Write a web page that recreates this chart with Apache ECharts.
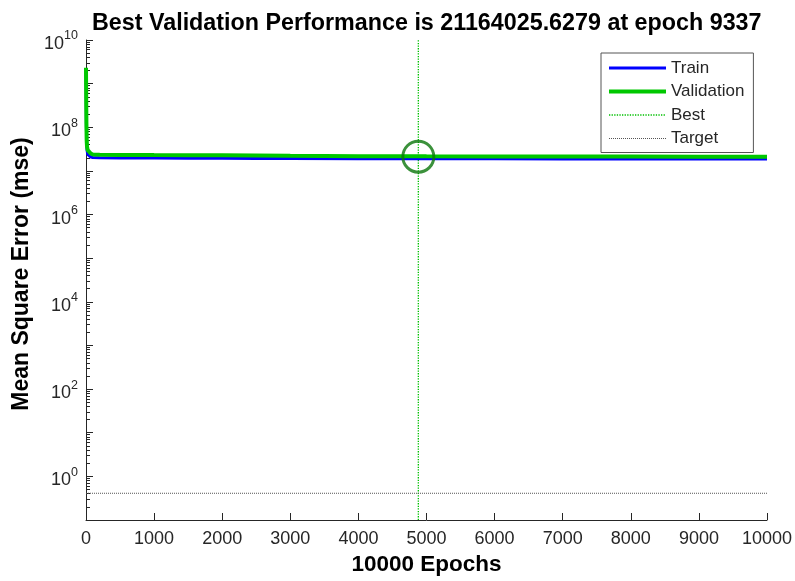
<!DOCTYPE html>
<html>
<head>
<meta charset="utf-8">
<script src="https://cdn.jsdelivr.net/npm/echarts@6/dist/echarts.min.js"></script>
<style>
html,body{margin:0;padding:0;background:#fff;}
#chart{width:795px;height:581px;}
</style>
</head>
<body>
<div id="chart"></div>
<script>
const epochs = [0, 2, 4, 6, 10, 15, 25, 40, 70, 100, 200, 500, 1000, 1500, 2000, 2500, 3000, 4000, 5000, 6000, 7000, 8000, 9000, 10000];
const trainMse = [2.0e9, 7e8, 2.5e8, 1.0e8, 4.2e7, 3.0e7, 2.4e7, 2.2e7, 2.08e7, 2.03e7, 2.0e7, 1.98e7, 1.97e7, 1.96e7, 1.95e7, 1.93e7, 1.92e7, 1.91e7, 1.9e7, 1.89e7, 1.88e7, 1.88e7, 1.87e7, 1.87e7];
const validMse = [2.3e9, 8e8, 3e8, 1.25e8, 5e7, 3.6e7, 3.0e7, 2.75e7, 2.5e7, 2.38e7, 2.34e7, 2.32e7, 2.3e7, 2.29e7, 2.28e7, 2.25e7, 2.22e7, 2.18e7, 2.16e7, 2.15e7, 2.14e7, 2.13e7, 2.12e7, 2.12e7];
const bestEpoch = 4880;
const bestValue = 21164025.6279;
const targetValue = 0.41;
const yMin = 0.1, yMax = 1e10;
const majorTickValues = [0.1, 1, 10, 100, 1e3, 1e4, 1e5, 1e6, 1e7, 1e8, 1e9, 1e10];
const labelTickValues = [1, 100, 1e4, 1e6, 1e8, 1e10];
const minorMultipliers = [2, 3, 4, 5, 6, 7, 8, 9];
const titleText = 'Best Validation Performance is 21164025.6279 at epoch 9337';

const minorTickValues = [];
for (let k = -1; k < 10; k++) {
  for (const m of minorMultipliers) minorTickValues.push(m * Math.pow(10, k));
}

const axisColor = '#262626';
const font = 'Liberation Sans, Arial, Helvetica, sans-serif';

const chart = echarts.init(document.getElementById('chart'), null, {renderer: 'canvas'});
chart.setOption({
  animation: false,
  backgroundColor: '#fff',
  title: {
    text: titleText,
    left: 92, top: 12,
    padding: 0,
    textStyle: {fontFamily: font, fontSize: 23.3, fontWeight: 'bold', color: '#000'}
  },
  grid: {left: 86, right: 28, top: 40, bottom: 61, containLabel: false, outerBoundsMode: 'none'},
  legend: {
    orient: 'vertical',
    left: 601, top: 53,
    padding: [5, 9, 4, 6],
    borderColor: '#555', borderWidth: 1,
    backgroundColor: '#fff',
    itemWidth: 57, itemHeight: 14, itemGap: 3.5, itemTextGap: 6,
    itemStyle: {opacity: 0},
    lineStyle: {width: 'inherit'},
    textStyle: {fontFamily: font, fontSize: 17, color: axisColor, lineHeight: 20},
    data: ['Train', 'Validation', 'Best', 'Target']
  },
  xAxis: {
    type: 'value', min: 0, max: 10000, interval: 1000,
    name: '10000 Epochs', nameLocation: 'middle', nameGap: 32,
    nameTextStyle: {fontFamily: font, fontSize: 22.5, fontWeight: 'bold', color: '#000'},
    axisLine: {lineStyle: {color: axisColor, width: 1}},
    axisTick: {inside: true, length: 7, lineStyle: {color: axisColor}},
    axisLabel: {fontFamily: font, fontSize: 18, color: axisColor, margin: 10, formatter: v => String(v)},
    splitLine: {show: false}
  },
  yAxis: [
    {
      type: 'log', logBase: 10, min: yMin, max: yMax, position: 'left',
      name: 'Mean Square Error (mse)', nameLocation: 'middle', nameGap: 52,
      nameTextStyle: {fontFamily: font, fontSize: 23, fontWeight: 'bold', color: '#000', padding: [0, 0, 0, 12]},
      axisLine: {show: true, lineStyle: {color: axisColor, width: 1}},
      axisTick: {show: true, inside: true, length: 7, lineStyle: {color: axisColor}, customValues: majorTickValues},
      axisLabel: {
        show: true, margin: 8, customValues: labelTickValues,
        formatter: function (v) {
          const e = Math.round(Math.log10(v));
          return '{b|10}{e|' + e + '}';
        },
        rich: {
          b: {fontFamily: font, fontSize: 18, color: axisColor, padding: [8, 0, 0, 0]},
          e: {fontFamily: font, fontSize: 12.5, color: axisColor, padding: [0, 0, 8, 0]}
        }
      },
      splitLine: {show: false}
    },
    {
      type: 'log', logBase: 10, min: yMin, max: yMax, position: 'left',
      axisLine: {show: false},
      axisTick: {show: true, inside: true, length: 4, lineStyle: {color: axisColor}, customValues: minorTickValues},
      axisLabel: {show: false},
      splitLine: {show: false}
    }
  ],
  series: [
    {
      name: 'Train', type: 'line', yAxisIndex: 0, symbol: 'none',
      data: epochs.map((e, i) => [e, trainMse[i]]),
      lineStyle: {color: '#0000FF', width: 3},
      itemStyle: {color: '#0000FF'}, z: 3
    },
    {
      name: 'Validation', type: 'line', yAxisIndex: 0, symbol: 'none',
      data: epochs.map((e, i) => [e, validMse[i]]),
      lineStyle: {color: '#00C800', width: 4},
      itemStyle: {color: '#00C800'}, z: 4
    },
    {
      name: 'Best', type: 'line', yAxisIndex: 0, symbol: 'none',
      data: [[bestEpoch, yMin], [bestEpoch, yMax]],
      lineStyle: {color: '#00C000', width: 1.3, type: 'dotted'},
      itemStyle: {color: '#00C000'}, z: 2
    },
    {
      name: 'Target', type: 'line', yAxisIndex: 0, symbol: 'none',
      data: [[0, targetValue], [10000, targetValue]],
      lineStyle: {color: '#555', width: 1, type: 'dotted'},
      itemStyle: {color: '#555'}, z: 2
    },
    {
      name: 'BestPoint', type: 'scatter', yAxisIndex: 0,
      data: [[bestEpoch, bestValue]],
      symbol: 'circle', symbolSize: 31,
      itemStyle: {color: 'transparent', borderColor: '#0A760A', borderWidth: 3},
      z: 5
    }
  ]
});
</script>
</body>
</html>
